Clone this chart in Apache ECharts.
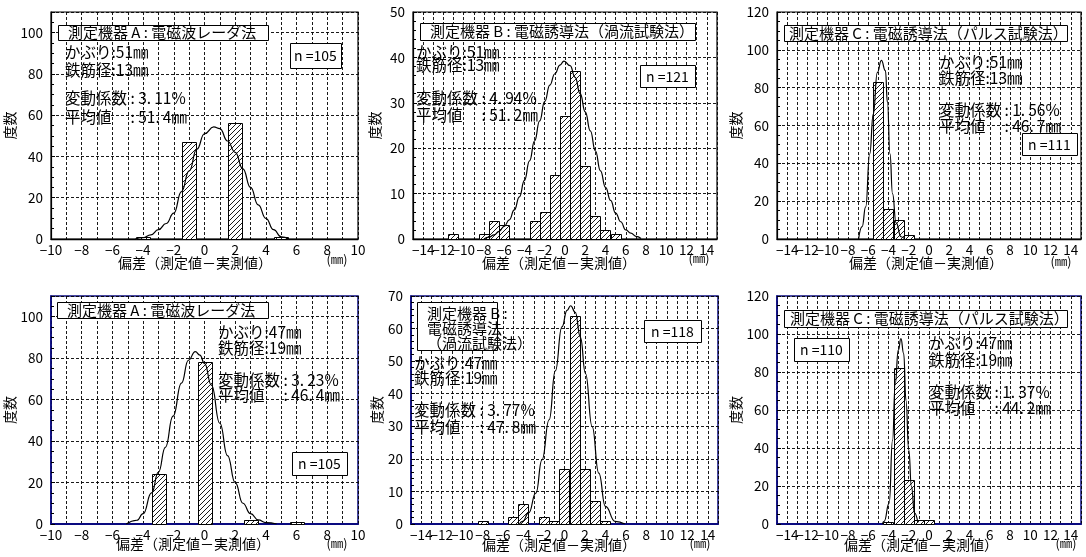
<!DOCTYPE html>
<html>
<head>
<meta charset="utf-8">
<script src="https://cdn.jsdelivr.net/npm/echarts@6/dist/echarts.min.js"></script>
<style>
  html, body { margin: 0; padding: 0; background: #fff; }
  #chart { width: 1086px; height: 557px; }
</style>
</head>
<body>
<div id="chart"></div>
<script>
const FONT = '"Noto Sans CJK JP", "Noto Sans", sans-serif';

// ---- histogram bins: deviation (mm, bin centre) and frequency ----
const binsA51 = [-4, -1, 2, 5];
const freqA51 = [1, 47, 56, 1];
const binsB51 = [-11, -8, -7, -6, -3, -2, -1, 0, 1, 2, 3, 4, 5];
const freqB51 = [1, 1, 4, 3, 4, 6, 14, 27, 37, 16, 5, 2, 1];
const binsC51 = [-5, -4, -3, -2];
const freqC51 = [83, 16, 10, 2];
const binsA47 = [-3, 0, 3, 6];
const freqA47 = [24, 78, 2, 1];
const binsB47 = [-8, -5, -4, -2, -1, 0, 1, 2, 3, 4];
const freqB47 = [1, 2, 6, 2, 1, 17, 64, 17, 7, 1];
const binsC47 = [-4, -3, -2, -1, 0];
const freqC47 = [1, 82, 23, 2, 2];

// ---- fitted distribution curves: deviation (mm) and frequency ----
const curveA51X = [-4.5, -4, -3.5, -3, -2.5, -2, -1.5, -1, -0.5, 0, 0.6, 1, 1.5, 2, 2.5, 3, 3.5, 4, 4.5, 5, 5.5];
const curveA51Y = [0, 0.6, 2, 4.5, 7.5, 12.5, 23, 33, 43.5, 51, 54.3, 53.5, 47.5, 42, 34, 25, 16.5, 10, 4.5, 1, 0];
const curveB51X = [-8, -7.5, -7, -6.5, -6, -5.5, -5, -4.5, -4, -3.5, -3, -2.5, -2, -1.5, -1, -0.5, -0.1, 0.5, 1, 1.5, 2, 2.5, 3, 3.5, 4, 4.5, 5, 5.5, 6, 6.5, 7, 7.5];
const curveB51Y = [0, 0.4, 0.9, 1.7, 2.8, 4.2, 6.4, 9.3, 12.9, 17.2, 21.6, 26, 30.3, 33.9, 36.4, 38.3, 39.2, 38.2, 35.6, 32, 28, 23.8, 19.4, 15, 11.4, 8.5, 5.7, 3.8, 2, 1.3, 0.6, 0.1];
const curveC51X = [-6.95, -6.6, -6.25, -5.85, -5.5, -5.1, -4.7, -4.3, -4.1, -3.85, -3.6, -3.25, -2.75, -2.4];
const curveC51Y = [0, 6.5, 17, 45, 66, 88, 94.4, 89, 72, 45, 24, 8.5, 1.2, 0];
const curveA47X = [-5.1, -4.4, -4, -3.45, -3, -2.55, -2.05, -1.5, -1.05, -0.6, -0.3, 0, 0.45, 1, 1.5, 2, 2.5, 3, 3.5, 4, 4.7];
const curveA47Y = [0, 1.8, 5, 15, 25, 37, 52, 68, 79, 83.2, 81.5, 77.5, 67, 48.6, 33, 20, 10, 5, 2, 0.7, 0];
const curveB47X = [-4.4, -4.1, -3.5, -2.8, -2.2, -1.5, -0.9, -0.25, 0.25, 0.6, 1.05, 1.55, 2.05, 2.7, 3.35, 4, 4.95, 5.9];
const curveB47Y = [0, 0.8, 3.4, 9.5, 19.7, 32, 47, 60.5, 65.6, 67, 65, 57.4, 46.2, 29.9, 15.6, 5.4, 0.8, 0];
const curveC47X = [-4.6, -4.43, -3.93, -3.6, -3.33, -3.03, -2.77, -2.5, -2.27, -2.0, -1.73, -1.43, -1.1];
const curveC47Y = [0, 1.4, 11, 44, 74, 91.5, 97.6, 89.8, 65, 39, 19.7, 5.8, 0.8];

// ---- panel statistics ----
const instrumentTitles = [
  '測定機器 A : 電磁波レーダ法',
  '測定機器 B : 電磁誘導法（渦流試験法）',
  '測定機器 C : 電磁誘導法（パルス試験法）',
  '測定機器 A : 電磁波レーダ法',
  '測定機器 B :\n電磁誘導法\n（渦流試験法）',
  '測定機器 C : 電磁誘導法（パルス試験法）'
];
const coverDepths = ['51', '51', '51', '47', '47', '47'];
const barDiameters = ['13', '13', '13', '19', '19', '19'];
const cvValues = ['3.11', '4.94', '1.56', '3.23', '3.77', '1.37'];
const meanValues = ['51.4', '51.2', '46.7', '46.4', '47.8', '44.2'];
const sampleCounts = [105, 121, 111, 105, 118, 110];

// ---- axis ranges and tick labels ----
const xTicksNarrow = [-10, -8, -6, -4, -2, 0, 2, 4, 6, 8, 10];
const xTicksWide = [-14, -12, -10, -8, -6, -4, -2, 0, 2, 4, 6, 8, 10, 12, 14];
const yMaxes = [110, 50, 120, 110, 70, 120];
const ySteps = [20, 10, 20, 20, 10, 20];

const xAxisTitle = '偏差（測定値－実測値）';
const unitLabel = '(㎜)';
const yAxisTitle = '度数';

const binSets = [[binsA51, freqA51], [binsB51, freqB51], [binsC51, freqC51],
                 [binsA47, freqA47], [binsB47, freqB47], [binsC47, freqC47]];
const curveSets = [[curveA51X, curveA51Y], [curveB51X, curveB51Y], [curveC51X, curveC51Y],
                   [curveA47X, curveA47Y], [curveB47X, curveB47Y], [curveC47X, curveC47Y]];

// ---- panel layout (pixels) ----
const NAVY = '#0a0a80';
const layouts = [
  { box: [51, 12, 307, 227], xr: [-10, 10], ticks: xTicksNarrow, frame: '#000', axisW: 1.3, barW: 0.9, nameGap: 29,
    title: [58, 25, 210, 15], titleText: [68, 32.5], stats: [65, 52, 70, 98, 117], nBox: [290, 43, 51, 25],
    xName: [195, 263], unit: [337, 259] },
  { box: [413, 12, 304, 227], xr: [-15, 15], ticks: xTicksWide, frame: '#000', axisW: 1.3, barW: 1, nameGap: 31,
    title: [420, 23, 275, 17], titleText: [430, 31.5], stats: [416, 52, 65, 98, 115], nBox: [640, 65, 55, 22],
    xName: [559, 263], unit: [699, 258] },
  { box: [777, 12, 304, 227], xr: [-15, 15], ticks: xTicksWide, frame: '#000', axisW: 1.3, barW: 1, nameGap: 33,
    title: [784, 25, 283, 16], titleText: [789, 33], stats: [939, 62, 78, 110, 126], nBox: [1022, 133, 55, 22],
    xName: [926, 263], unit: [1061, 261] },
  { box: [51, 296, 307, 228], xr: [-10, 10], ticks: xTicksNarrow, frame: NAVY, axisW: 2, barW: 0.9, nameGap: 29,
    title: [57, 302, 211, 16], titleText: [67, 310], stats: [218, 332, 348, 380, 395], nBox: [292, 452, 55, 23],
    xName: [193, 544], unit: [337, 543] },
  { box: [411, 296, 307, 228], xr: [-15, 15], ticks: xTicksWide, frame: NAVY, axisW: 2, barW: 1, nameGap: 25,
    title: [417, 302, 80, 48], titleText: [427, 313], stats: [414, 363, 378, 410, 427], nBox: [644, 320, 57, 22],
    xName: [559, 545], unit: [700, 543] },
  { box: [777, 296, 304, 228], xr: [-15, 15], ticks: xTicksWide, frame: NAVY, axisW: 2, barW: 1, nameGap: 30,
    title: [784, 310, 283, 17], titleText: [790, 318.5], stats: [929, 343, 360, 392, 408], nBox: [794, 338, 55, 23],
    xName: [921, 545], unit: [1066, 543] }
];

// diagonal hatch used to fill the histogram bars
const hatch = (function () {
  const n = 5;
  const c = document.createElement('canvas');
  c.width = n; c.height = n;
  const g = c.getContext('2d');
  g.fillStyle = '#fff';
  g.fillRect(0, 0, n, n);
  g.strokeStyle = '#000';
  g.lineWidth = 0.9;
  g.beginPath();
  g.moveTo(0, n); g.lineTo(n, 0);
  g.moveTo(-1, 1); g.lineTo(1, -1);
  g.moveTo(n - 1, n + 1); g.lineTo(n + 1, n - 1);
  g.stroke();
  return c;
})();

function signed(v) {
  return v < 0 ? '−' + (-v) : String(v);
}

// decimal figure written with a thin gap after the point
function decimal(s) {
  return s.replace('.', '.\u2009');
}

function barRenderer(frac) {
  return function (params, api) {
    const x = api.value(0);
    const f = api.value(1);
    const a = api.coord([x - frac / 2, f]);
    const b = api.coord([x + frac / 2, 0]);
    return {
      type: 'rect',
      shape: { x: Math.round(a[0]) + 0.5, y: Math.round(a[1]) + 0.5,
               width: Math.round(b[0] - a[0]), height: Math.round(b[1] - a[1]) },
      style: { fill: { image: hatch, repeat: 'repeat' }, stroke: '#000', lineWidth: 1 }
    };
  };
}

const grids = [], xAxes = [], yAxes = [], series = [], graphics = [];

layouts.forEach(function (p, i) {
  grids.push({
    left: p.box[0], top: p.box[1], width: p.box[2], height: p.box[3],
    show: true, borderColor: p.frame, borderWidth: p.axisW === 2 ? 1.5 : 1.2,
    backgroundColor: '#fff', containLabel: false, outerBoundsMode: 'none'
  });
  xAxes.push({
    type: 'value', gridIndex: i, min: p.xr[0], max: p.xr[1], interval: 1,
    axisLine: { show: true, onZero: false, lineStyle: { color: p.frame, width: p.axisW } },
    axisTick: { show: false },
    axisLabel: {
      formatter: function (v) { return p.ticks.indexOf(v) >= 0 ? signed(v) : ''; },
      fontSize: 13.5, color: '#000', margin: 4, fontFamily: FONT, hideOverlap: false
    },
    splitLine: { show: true, lineStyle: { type: [3, 2], color: '#000', width: 0.9 } }
  });
  const step = ySteps[i];
  yAxes.push({
    type: 'value', gridIndex: i, min: 0, max: yMaxes[i], interval: step,
    axisLine: { show: true, onZero: false, lineStyle: { color: p.frame, width: p.axisW === 2 ? 1.6 : 1.2 } },
    axisTick: { show: true, inside: true, length: 4, lineStyle: { color: '#000' } },
    minorTick: { show: true, splitNumber: step === 20 ? 4 : 5, length: 3, lineStyle: { color: '#000' } },
    axisLabel: {
      formatter: function (v) { return v % step === 0 ? String(v) : ''; },
      fontSize: 13.5, color: '#000', margin: 8, fontFamily: FONT
    },
    splitLine: { show: true, lineStyle: { type: [3, 2], color: '#000', width: 0.9 } },
    name: yAxisTitle, nameLocation: 'middle', nameRotate: 90, nameGap: p.nameGap,
    nameTextStyle: { fontSize: 14, color: '#000', fontFamily: FONT }
  });

  const bins = binSets[i][0], freq = binSets[i][1];
  series.push({
    type: 'custom', xAxisIndex: i, yAxisIndex: i, z: 3,
    renderItem: barRenderer(p.barW),
    data: bins.map(function (b, k) { return [b, freq[k]]; })
  });
  const cx = curveSets[i][0], cy = curveSets[i][1];
  series.push({
    type: 'line', xAxisIndex: i, yAxisIndex: i, z: 4,
    smooth: true, smoothMonotone: 'x', symbol: 'none',
    lineStyle: { color: '#000', width: 1.2 },
    data: cx.map(function (x, k) { return [x, cy[k]]; })
  });

  // instrument title box
  graphics.push({
    type: 'rect', z: 10,
    shape: { x: p.title[0] + 0.5, y: p.title[1] + 0.5, width: p.title[2], height: p.title[3] },
    style: { fill: '#fff', stroke: '#000', lineWidth: 1 }
  });
  graphics.push({
    type: 'text', z: 11, x: p.titleText[0], y: i === 4 ? p.titleText[1] + 15 : p.titleText[1],
    style: { text: instrumentTitles[i], font: '15px ' + FONT, fill: '#000',
             verticalAlign: 'middle', lineHeight: 15 }
  });

  // cover depth, bar diameter, statistics
  const s = p.stats;
  const statLines = [
    [s[1], 'かぶり:' + coverDepths[i] + '㎜'],
    [s[2], '鉄筋径:' + barDiameters[i] + '㎜'],
    [s[3], '変動係数 : ' + decimal(cvValues[i]) + '%'],
    [s[4], '平均値　 : ' + decimal(meanValues[i]) + '㎜']
  ];
  statLines.forEach(function (ln) {
    graphics.push({
      type: 'text', z: 9, x: s[0], y: ln[0],
      style: { text: ln[1], font: '15.5px ' + FONT, fill: '#000', verticalAlign: 'middle' }
    });
  });

  // sample count box
  graphics.push({
    type: 'rect', z: 10,
    shape: { x: p.nBox[0] + 0.5, y: p.nBox[1] + 0.5, width: p.nBox[2], height: p.nBox[3] },
    style: { fill: '#fff', stroke: '#000', lineWidth: 1 }
  });
  graphics.push({
    type: 'text', z: 11, x: p.nBox[0] + p.nBox[2] / 2, y: p.nBox[1] + p.nBox[3] / 2 + 0.5,
    style: { text: 'n =' + sampleCounts[i], font: '14px ' + FONT, fill: '#000',
             align: 'center', verticalAlign: 'middle' }
  });

  // x-axis title and unit
  graphics.push({
    type: 'text', z: 9, x: p.xName[0], y: p.xName[1],
    style: { text: xAxisTitle, font: '14px ' + FONT, fill: '#000', align: 'center', verticalAlign: 'middle' }
  });
  graphics.push({
    type: 'text', z: 9, x: p.unit[0], y: p.unit[1],
    style: { text: unitLabel, font: '12.5px ' + FONT, fill: '#000', align: 'center', verticalAlign: 'middle' }
  });
});

const chart = echarts.init(document.getElementById('chart'), null, { renderer: 'canvas' });
chart.setOption({
  animation: false,
  backgroundColor: '#fff',
  textStyle: { fontFamily: FONT },
  grid: grids,
  xAxis: xAxes,
  yAxis: yAxes,
  series: series,
  graphic: { elements: graphics }
});
</script>
</body>
</html>
